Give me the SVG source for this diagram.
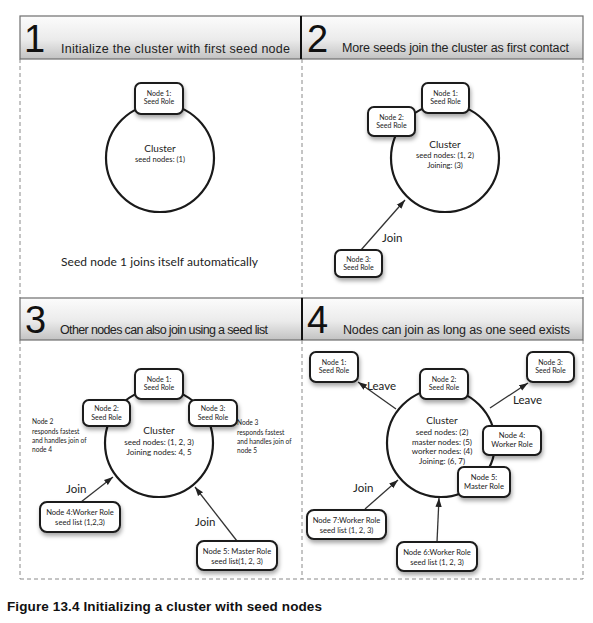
<svg xmlns="http://www.w3.org/2000/svg" width="593" height="623" viewBox="0 0 593 623">
<defs>
<linearGradient id="hg" x1="0" y1="0" x2="0" y2="1">
<stop offset="0" stop-color="#fcfcfc"/>
<stop offset="0.55" stop-color="#ebebeb"/>
<stop offset="1" stop-color="#c2c2c2"/>
</linearGradient>
<filter id="sh" x="-30%" y="-30%" width="160%" height="190%">
<feDropShadow dx="1" dy="3" stdDeviation="2" flood-color="#000" flood-opacity="0.35"/>
</filter>
<marker id="ah" viewBox="0 0 10 7" refX="10" refY="3.5" markerWidth="9" markerHeight="7" markerUnits="userSpaceOnUse" orient="auto">
<path d="M0,0 L10,3.5 L0,7 z" fill="#222"/>
</marker>
<style>
.hdr{fill:url(#hg);stroke:#6e6e6e;stroke-width:1.2}
.div{stroke:#111;stroke-width:2}
.num{font-family:"Liberation Sans",Arial,sans-serif;font-size:38px;fill:#111}
.ttl{font-family:"Liberation Sans",Arial,sans-serif;font-size:12.5px;fill:#222}
.dash{stroke:#8a8a8a;stroke-width:1;stroke-dasharray:4 3;fill:none}
.cl{fill:#fff;stroke:#1a1a1a;stroke-width:2.2}
.box{fill:#fff;stroke:#1a1a1a;stroke-width:2;filter:url(#sh)}
.t{font-family:Lato,"Open Sans",sans-serif;fill:#222;text-anchor:middle}
.a{font-family:Lato,"Open Sans",sans-serif;fill:#222}
.s6{font-size:7px}
.s7{font-size:7.6px}
.s75{font-size:8px}
.s9{font-size:10px}
.n6{font-size:6.6px}
.lbl{font-family:Lato,"Open Sans",sans-serif;font-size:11.5px;fill:#222}
.conn{stroke:#333;stroke-width:1.3;fill:none;marker-end:url(#ah)}
.cap{font-family:"Liberation Sans",Arial,sans-serif;font-size:13.5px;font-weight:bold;fill:#111}
</style>
</defs>
<rect width="593" height="623" fill="#fff"/>

<g id="frame">
<line class="dash" x1="20" y1="59" x2="20" y2="298"/>
<line class="dash" x1="20" y1="340" x2="20" y2="579"/>
<line class="dash" x1="583" y1="59" x2="583" y2="298"/>
<line class="dash" x1="583" y1="340" x2="583" y2="579"/>
<line class="dash" x1="302" y1="59" x2="302" y2="298"/>
<line class="dash" x1="302" y1="340" x2="302" y2="579"/>
<line class="dash" x1="20" y1="579" x2="583" y2="579"/>
<rect class="hdr" x="20" y="16" width="563" height="43"/>
<line class="div" x1="301" y1="16" x2="301" y2="59"/>
<rect class="hdr" x="20" y="298" width="563" height="42"/>
<line class="div" x1="302" y1="298" x2="302" y2="340"/>
<text class="num" x="24" y="52">1</text>
<text class="ttl" x="61" y="53" textLength="229">Initialize the cluster with first seed node</text>
<text class="num" x="307" y="52">2</text>
<text class="ttl" x="342" y="52" textLength="227">More seeds join the cluster as first contact</text>
<text class="num" x="25" y="333">3</text>
<text class="ttl" x="60" y="334" textLength="208">Other nodes can also join using a seed list</text>
<text class="num" x="307" y="333">4</text>
<text class="ttl" x="343" y="334" textLength="227">Nodes can join as long as one seed exists</text>
</g>

<g id="connectors">
<line class="conn" x1="361" y1="250" x2="405" y2="200"/>
<line class="conn" x1="81" y1="502" x2="113" y2="477"/>
<line class="conn" x1="237" y1="541" x2="195" y2="487"/>
<line class="conn" x1="396" y1="409" x2="358" y2="382"/>
<line class="conn" x1="490" y1="408" x2="528" y2="383"/>
<line class="conn" x1="365" y1="509" x2="398" y2="480"/>
<line class="conn" x1="437" y1="542" x2="439" y2="498"/>
<text class="lbl" x="382" y="242">Join</text>
<text class="lbl" x="66" y="493">Join</text>
<text class="lbl" x="195" y="526">Join</text>
<text class="lbl" x="367" y="390">Leave</text>
<text class="lbl" x="513" y="404">Leave</text>
<text class="lbl" x="353" y="492">Join</text>
</g>

<!-- Quadrant 1 -->
<g id="q1-cluster">
<circle class="cl" cx="160" cy="158" r="54"/>
<text class="t s9" x="160" y="152">Cluster</text>
<text class="t s7" x="160" y="162">seed nodes: (1)</text>
</g>
<g id="q1-node1">
<rect class="box" x="135" y="83" width="48" height="31" rx="6"/>
<text class="t s6" x="159" y="96">Node 1:</text>
<text class="t s6" x="159" y="104">Seed Role</text>
</g>
<text class="a" x="61" y="266" font-size="12" textLength="197">Seed node 1 joins itself automatically</text>

<!-- Quadrant 2 -->
<g id="q2-cluster">
<circle class="cl" cx="445" cy="158" r="54"/>
<text class="t s9" x="445" y="148">Cluster</text>
<text class="t s7" x="445" y="158">seed nodes: (1, 2)</text>
<text class="t s7" x="445" y="168">Joining: (3)</text>
</g>
<g id="q2-node1">
<rect class="box" x="422" y="83" width="47" height="30" rx="6"/>
<text class="t s6" x="445.5" y="96">Node 1:</text>
<text class="t s6" x="445.5" y="104">Seed Role</text>
</g>
<g id="q2-node2">
<rect class="box" x="368" y="107" width="47" height="29" rx="6"/>
<text class="t s6" x="391.5" y="120">Node 2:</text>
<text class="t s6" x="391.5" y="128">Seed Role</text>
</g>
<g id="q2-node3">
<rect class="box" x="335" y="250" width="47" height="27" rx="6"/>
<text class="t s6" x="358.5" y="262">Node 3:</text>
<text class="t s6" x="358.5" y="270">Seed Role</text>
</g>

<!-- Quadrant 3 -->
<g id="q3-cluster">
<circle class="cl" cx="159" cy="443" r="54"/>
<text class="t s9" x="159" y="434">Cluster</text>
<text class="t s75" x="159" y="445">seed nodes: (1, 2, 3)</text>
<text class="t s75" x="159" y="455">Joining nodes: 4, 5</text>
</g>
<g id="q3-node1">
<rect class="box" x="135" y="369" width="48" height="30" rx="6"/>
<text class="t s6" x="159" y="382">Node 1:</text>
<text class="t s6" x="159" y="390">Seed Role</text>
</g>
<g id="q3-node2">
<rect class="box" x="83" y="400" width="47" height="26" rx="6"/>
<text class="t s6" x="106.5" y="411">Node 2:</text>
<text class="t s6" x="106.5" y="420">Seed Role</text>
</g>
<g id="q3-node3">
<rect class="box" x="189" y="400" width="48" height="26" rx="6"/>
<text class="t s6" x="213" y="411">Node 3:</text>
<text class="t s6" x="213" y="420">Seed Role</text>
</g>
<g id="q3-note2" class="a n6">
<text x="32" y="424">Node 2</text>
<text x="32" y="434">responds fastest</text>
<text x="32" y="443">and handles join of</text>
<text x="32" y="452">node 4</text>
</g>
<g id="q3-note3" class="a n6">
<text x="237" y="425">Node 3</text>
<text x="237" y="435">responds fastest</text>
<text x="237" y="444">and handles join of</text>
<text x="237" y="453">node 5</text>
</g>
<g id="q3-node4">
<rect class="box" x="40" y="502" width="80" height="30" rx="7"/>
<text class="t s7" x="80" y="515">Node 4:Worker Role</text>
<text class="t s7" x="80" y="525">seed list (1,2,3)</text>
</g>
<g id="q3-node5">
<rect class="box" x="197" y="541" width="80" height="29" rx="7"/>
<text class="t s7" x="237" y="554">Node 5: Master Role</text>
<text class="t s7" x="237" y="564">seed list(1, 2, 3)</text>
</g>

<!-- Quadrant 4 -->
<g id="q4-cluster">
<circle class="cl" cx="441" cy="443" r="54"/>
<text class="t s9" x="442" y="424">Cluster</text>
<text class="t s75" x="442" y="435">seed nodes: (2)</text>
<text class="t s75" x="442" y="445">master nodes: (5)</text>
<text class="t s75" x="442" y="454">worker nodes: (4)</text>
<text class="t s75" x="442" y="464">Joining: (6, 7)</text>
</g>
<g id="q4-node2">
<rect class="box" x="420" y="369" width="48" height="30" rx="6"/>
<text class="t s6" x="444" y="382">Node 2:</text>
<text class="t s6" x="444" y="390">Seed Role</text>
</g>
<g id="q4-node1">
<rect class="box" x="310" y="352" width="48" height="30" rx="6"/>
<text class="t s6" x="334" y="365">Node 1:</text>
<text class="t s6" x="334" y="373">Seed Role</text>
</g>
<g id="q4-node3">
<rect class="box" x="527" y="352" width="47" height="30" rx="6"/>
<text class="t s6" x="550.5" y="365">Node 3:</text>
<text class="t s6" x="550.5" y="373">Seed Role</text>
</g>
<g id="q4-node4">
<rect class="box" x="483" y="426" width="58" height="29" rx="6"/>
<text class="t s7" x="512" y="438">Node 4:</text>
<text class="t s7" x="512" y="447">Worker Role</text>
</g>
<g id="q4-node5">
<rect class="box" x="458" y="467" width="52" height="30" rx="6"/>
<text class="t s7" x="484" y="480">Node 5:</text>
<text class="t s7" x="484" y="489">Master Role</text>
</g>
<g id="q4-node7">
<rect class="box" x="307" y="510" width="79" height="29" rx="7"/>
<text class="t s7" x="346.5" y="523">Node 7:Worker Role</text>
<text class="t s7" x="346.5" y="533">seed list (1, 2, 3)</text>
</g>
<g id="q4-node6">
<rect class="box" x="397" y="542" width="80" height="29" rx="7"/>
<text class="t s7" x="437" y="555">Node 6:Worker Role</text>
<text class="t s7" x="437" y="565">seed list (1, 2, 3)</text>
</g>

<text class="cap" x="7" y="611" textLength="315">Figure 13.4 Initializing a cluster with seed nodes</text>
</svg>
